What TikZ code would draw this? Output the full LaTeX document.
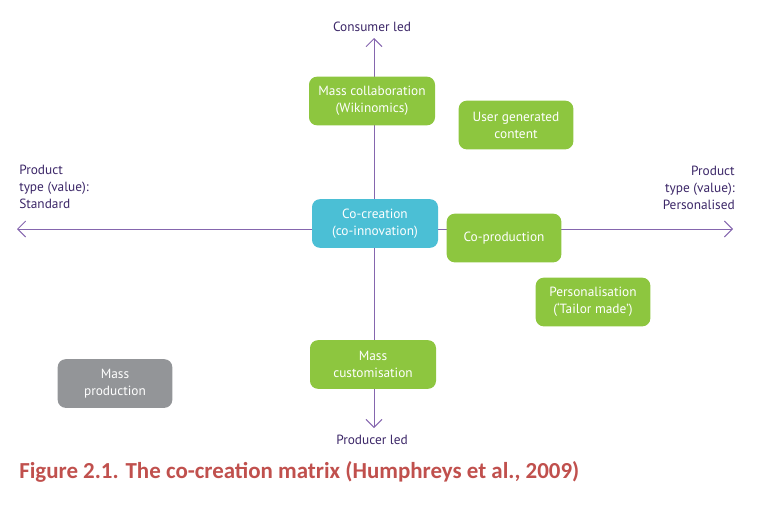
\documentclass[tikz,border=0pt]{standalone}
\usepackage{fontspec}
\setmainfont{PT Sans}
\newfontfamily\captionfont{Carlito}
\usetikzlibrary{arrows.meta}
\definecolor{leafgreen}{HTML}{8DC63F}
\definecolor{seacyan}{HTML}{4BBFD5}
\definecolor{slategrey}{HTML}{939598}
\definecolor{axispurple}{HTML}{8566AE}
\definecolor{inkpurple}{HTML}{3B2667}
\definecolor{captionred}{HTML}{C0504D}

\tikzset{
  quad/.style={rounded corners=6pt, text=white, align=center, font=\fontsize{10}{12.7}\selectfont,
    minimum height=36.5pt, inner sep=2pt},
  widequad/.style={quad, minimum width=94.5pt},
  smallquad/.style={quad, minimum width=86pt},
  axislabel/.style={text=inkpurple, font=\fontsize{10}{12.7}\selectfont, inner sep=0pt},
}

\begin{document}
\begin{tikzpicture}[x=0.75pt, y=-0.75pt]
   \useasboundingbox (0,0) rectangle (761,507);
   \coordinate (top) at (374,38);
   \coordinate (bottom) at (374,428);
   \coordinate (left) at (17,229);
   \coordinate (right) at (733,229);
   \draw[axispurple, line width=0.7pt, {Straight Barb[length=6pt,width=12pt]}-{Straight Barb[length=6pt,width=12pt]}] (bottom)--(top);
   \draw[axispurple, line width=0.7pt, {Straight Barb[length=6pt,width=12pt]}-{Straight Barb[length=6pt,width=12pt]}] (left)--(right);
   \node[axislabel] (consumer) at (372,27) {Consumer led};
   \node[axislabel] (producer) at (372,440) {Producer led};
   \node[axislabel, anchor=west, align=left] (standard) at (19,187) {Product\\type (value):\\Standard};
   \node[axislabel, anchor=east, align=right] (personalised) at (735,188) {Product\\type (value):\\Personalised};
   \node[widequad, fill=leafgreen] (collab) at (372,101) {Mass collaboration\\(Wikinomics)};
   \node[smallquad, fill=leafgreen] (usergen) at (516,125) {User generated\\content};
   \node[widequad, fill=seacyan] (cocreation) at (375,223.5) {Co-creation\\(co-innovation)};
   \node[smallquad, fill=leafgreen] (coproduction) at (504,238) {Co-production};
   \node[smallquad, fill=leafgreen] (tailor) at (593,302) {Personalisation\\(`Tailor made')};
   \node[widequad, fill=leafgreen] (custom) at (373,364.5) {Mass\\customisation};
   \node[smallquad, fill=slategrey] (massprod) at (115,383.5) {Mass\\production};
   \node[anchor=west, text=captionred, font=\captionfont\fontsize{17.2}{20}\selectfont\bfseries, inner sep=0pt] (caption) at (19,472) {Figure 2.1. The co-creation matrix (Humphreys et al., 2009)};
\end{tikzpicture}
\end{document}
